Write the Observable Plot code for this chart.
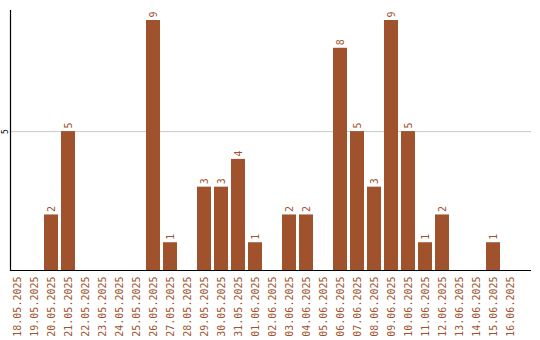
<!DOCTYPE html>
<html>
<head>
<meta charset="utf-8">
<script src="https://cdn.jsdelivr.net/npm/d3@7"></script>
<script src="https://cdn.jsdelivr.net/npm/@observablehq/plot@0.6"></script>
<style>
  html, body { margin: 0; padding: 0; background: #fff; }
  #chart svg { display: block; }
</style>
</head>
<body>
<div id="chart"></div>
<script>
const dates = ["18.05.2025","19.05.2025","20.05.2025","21.05.2025","22.05.2025","23.05.2025","24.05.2025","25.05.2025","26.05.2025","27.05.2025","28.05.2025","29.05.2025","30.05.2025","31.05.2025","01.06.2025","02.06.2025","03.06.2025","04.06.2025","05.06.2025","06.06.2025","07.06.2025","08.06.2025","09.06.2025","10.06.2025","11.06.2025","12.06.2025","13.06.2025","14.06.2025","15.06.2025","16.06.2025"];
const counts = [0,0,2,5,0,0,0,0,9,1,0,3,3,4,1,0,2,2,0,8,5,3,9,5,1,2,0,0,1,0];
const yTicks = [5];

const data = dates.map((d, i) => ({date: d, value: counts[i]}));
const labelled = data.filter(d => d.value > 0);
const color = "#A0522D";
const mono = "DejaVu Sans Mono";

const chart = Plot.plot({
  width: 540,
  height: 340,
  marginTop: 10,
  marginLeft: 10,
  marginRight: 9,
  marginBottom: 70,
  style: {fontFamily: mono, background: "#fff"},
  x: {domain: dates, paddingInner: 0.1765, paddingOuter: 0.405, align: 0, label: null},
  y: {domain: [0, 9.36], label: null},
  marks: [
    Plot.gridY(yTicks, {stroke: "#c8c8c8", strokeOpacity: 1}),
    Plot.barY(data, {x: "date", y: "value", fill: color}),
    Plot.text(labelled, {x: "date", y: "value", text: d => String(d.value), rotate: -90, textAnchor: "start", dy: -3, fill: color, fontSize: 10, fontFamily: mono}),
    Plot.axisX({tickSize: 0, tickPadding: 6, tickRotate: -90, fontSize: 10, fill: color, fontFamily: mono, label: null}),
    Plot.axisY(yTicks, {tickSize: 0, tickPadding: 3, tickRotate: -90, fontSize: 8, fill: "#000", fontFamily: mono, label: null}),
    Plot.ruleY([0], {stroke: "#000", strokeWidth: 1.2}),
    Plot.frame({anchor: "left", stroke: "#000", strokeWidth: 1.2})
  ]
});
document.getElementById("chart").appendChild(chart);
</script>
</body>
</html>
